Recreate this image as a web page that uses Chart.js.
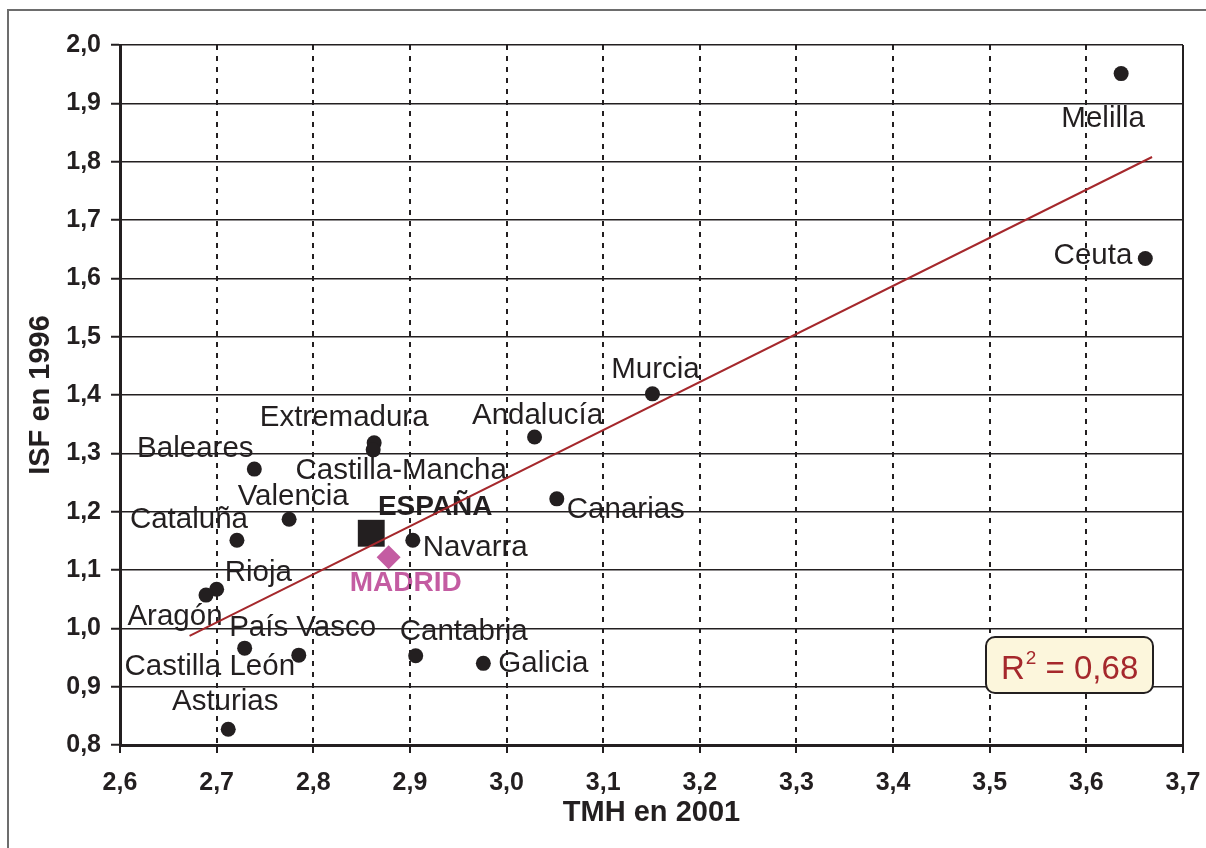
<!DOCTYPE html>
<html>
<head>
<meta charset="utf-8">
<script src="https://cdn.jsdelivr.net/npm/chart.js@4/dist/chart.umd.min.js"></script>
<style>
  body { margin: 0; background: #fff; }
  canvas { display: block; }
</style>
</head>
<body>
<canvas id="chart" width="1206" height="848"></canvas>
<script>
// datos
const regiones = ['Melilla', 'Ceuta', 'Murcia', 'Andalucía', 'Extremadura', 'Castilla-Mancha',
  'Baleares', 'Canarias', 'Valencia', 'Cataluña', 'Navarra', 'Rioja', 'Aragón',
  'País Vasco', 'Castilla León', 'Cantabria', 'Galicia', 'Asturias'];
const tmh2001 = [3.636, 3.661, 3.151, 3.029, 2.863, 2.862, 2.739, 3.052, 2.775, 2.721,
  2.903, 2.700, 2.689, 2.729, 2.785, 2.906, 2.976, 2.712];
const isf1996 = [1.951, 1.634, 1.402, 1.328, 1.318, 1.306, 1.273, 1.222, 1.187, 1.151,
  1.151, 1.067, 1.057, 0.966, 0.954, 0.953, 0.940, 0.827];

const espanaTmh = 2.860, espanaIsf = 1.163;
const madridTmh = 2.878, madridIsf = 1.122;

// recta de regresión (extremos)
const tendX = [2.672, 3.668];
const tendY = [0.987, 1.808];
const r2Texto = '0,68';

const xTicks = { min: 2.6, max: 3.7, step: 0.1 };
const yTicks = { min: 0.8, max: 2.0, step: 0.1 };

// colocación de las etiquetas respecto a cada punto: [dx, dy, alineación]
const etiquetaPos = [
  [-18, 45, 'center'], [-13, -3, 'right'], [3, -24, 'center'], [3, -21, 'center'],
  [-30, -25, 'center'], [28, 21, 'center'], [-59, -20, 'center'], [10, 11, 'left'],
  [4, -22, 'center'], [-48, -20, 'center'], [10, 8, 'left'], [8, -16, 'left'],
  [-31, 22, 'center'], [58, -20, 'center'], [-89, 12, 'center'], [48, -24, 'center'],
  [15, 1, 'left'], [-3, -27, 'center']
];

const NEGRO = '#231f20';
const ROJO = '#a5282c';
const ROSA = '#c45ca2';
const FUENTE = "'Liberation Sans', Arial, sans-serif";

const coma = v => Number(v).toFixed(1).replace('.', ',');

const etiquetas = {
  id: 'etiquetas',
  beforeDraw(chart) {
    const ctx = chart.ctx;
    const puntos = chart.getDatasetMeta(1).data;
    ctx.save();
    ctx.fillStyle = NEGRO;
    ctx.font = '29.5px ' + FUENTE;
    ctx.textBaseline = 'middle';
    puntos.forEach((p, i) => {
      const [dx, dy, al] = etiquetaPos[i];
      ctx.textAlign = al;
      ctx.fillText(regiones[i], p.x + dx, p.y + dy);
    });
    const esp = chart.getDatasetMeta(2).data[0];
    ctx.font = 'bold 28px ' + FUENTE;
    ctx.textAlign = 'center';
    ctx.fillText('ESPAÑA', esp.x + 64, esp.y - 26);
    const mad = chart.getDatasetMeta(3).data[0];
    ctx.fillStyle = ROSA;
    ctx.fillText('MADRID', mad.x + 17, mad.y + 26);
    ctx.restore();
  },
  afterDraw(chart) {
    const ctx = chart.ctx;
    const a = chart.chartArea;
    ctx.save();
    // marco exterior
    ctx.strokeStyle = '#6d6d6d';
    ctx.lineWidth = 2;
    ctx.beginPath();
    ctx.moveTo(8, 848);
    ctx.lineTo(8, 10);
    ctx.lineTo(1206, 10);
    ctx.stroke();
    // borde derecho del área
    ctx.strokeStyle = NEGRO;
    ctx.lineWidth = 2;
    ctx.beginPath();
    ctx.moveTo(a.right, a.top);
    ctx.lineTo(a.right, a.bottom);
    ctx.stroke();
    // títulos de ejes
    ctx.fillStyle = NEGRO;
    ctx.font = 'bold 29px ' + FUENTE;
    ctx.textAlign = 'center';
    ctx.textBaseline = 'middle';
    ctx.fillText('TMH en 2001', (a.left + a.right) / 2, 813);
    ctx.translate(41, (a.top + a.bottom) / 2);
    ctx.rotate(-Math.PI / 2);
    ctx.fillText('ISF en 1996', 0, 0);
    ctx.restore();

    // recuadro R²
    const bx = 986, by = 637, bw = 167, bh = 56;
    ctx.save();
    ctx.fillStyle = '#fcf6dc';
    ctx.strokeStyle = NEGRO;
    ctx.lineWidth = 2;
    ctx.beginPath();
    ctx.roundRect(bx, by, bw, bh, 9);
    ctx.fill();
    ctx.stroke();
    ctx.fillStyle = ROJO;
    ctx.textBaseline = 'alphabetic';
    ctx.textAlign = 'left';
    ctx.font = '33px ' + FUENTE;
    let x = 1001;
    ctx.fillText('R', x, 679);
    x += ctx.measureText('R').width + 1;
    ctx.font = '19px ' + FUENTE;
    ctx.fillText('2', x, 664);
    x += ctx.measureText('2').width;
    ctx.font = '33px ' + FUENTE;
    ctx.fillText(' = ' + r2Texto, x, 679);
    ctx.restore();
  }
};

new Chart(document.getElementById('chart'), {
  data: {
    datasets: [
      {
        type: 'line',
        data: tendX.map((x, i) => ({ x, y: tendY[i] })),
        borderColor: ROJO,
        borderWidth: 2,
        pointRadius: 0,
        fill: false,
      },
      {
        type: 'scatter',
        data: tmh2001.map((x, i) => ({ x, y: isf1996[i] })),
        backgroundColor: NEGRO,
        borderWidth: 0,
        pointRadius: 7.5,
      },
      {
        type: 'scatter',
        data: [{ x: espanaTmh, y: espanaIsf }],
        pointStyle: 'rect',
        backgroundColor: NEGRO,
        borderWidth: 0,
        pointRadius: 19,
      },
      {
        type: 'scatter',
        data: [{ x: madridTmh, y: madridIsf }],
        pointStyle: 'rectRot',
        backgroundColor: ROSA,
        borderWidth: 0,
        pointRadius: 12,
      },
    ],
  },
  options: {
    responsive: false,
    animation: false,
    devicePixelRatio: 1,
    layout: { padding: { top: 45, right: 23, left: 0, bottom: 0 } },
    plugins: { legend: { display: false }, tooltip: { enabled: false } },
    scales: {
      x: {
        type: 'linear',
        min: xTicks.min,
        max: xTicks.max,
        afterFit: s => { s.height = 103; s.paddingLeft = 0; s.paddingRight = 0; },
        ticks: {
          stepSize: xTicks.step,
          padding: 15,
          color: NEGRO,
          font: { family: FUENTE, size: 25, weight: 'bold' },
          callback: v => coma(v),
        },
        grid: {
          color: NEGRO,
          lineWidth: 2,
          tickLength: 8,
          tickBorderDash: [],
          tickWidth: 2,
        },
        border: { color: NEGRO, width: 3, dash: [5, 6] },
      },
      y: {
        type: 'linear',
        min: yTicks.min,
        max: yTicks.max,
        afterFit: s => { s.width = 120; s.paddingTop = 0; s.paddingBottom = 0; },
        ticks: {
          stepSize: yTicks.step,
          padding: 10,
          color: NEGRO,
          font: { family: FUENTE, size: 25, weight: 'bold' },
          callback: v => coma(v),
        },
        grid: {
          color: NEGRO,
          lineWidth: 1.5,
          tickLength: 9,
          tickWidth: 2,
        },
        border: { color: NEGRO, width: 3 },
      },
    },
  },
  plugins: [etiquetas],
});
</script>
</body>
</html>
